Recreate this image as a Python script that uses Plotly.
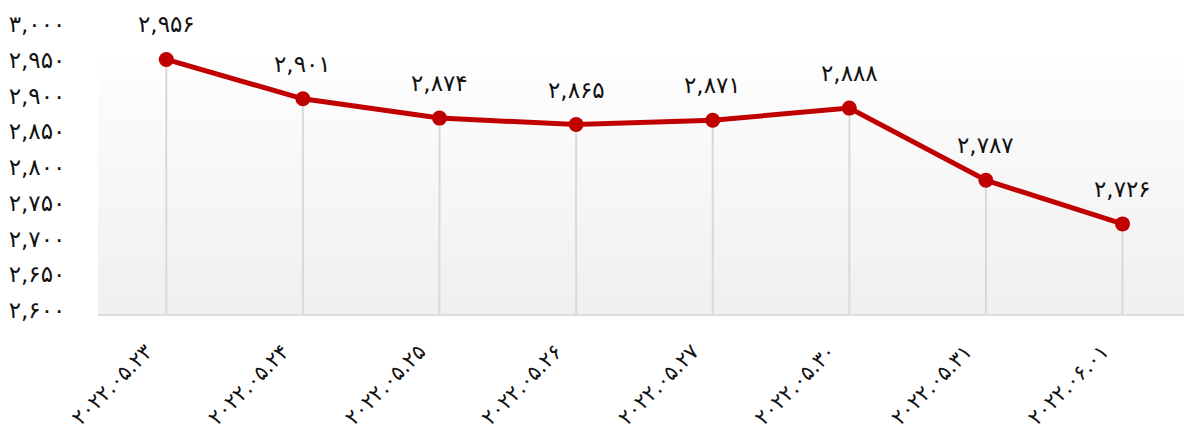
import plotly.graph_objects as go

# data
dates = ["2022.05.23", "2022.05.24", "2022.05.25", "2022.05.26",
         "2022.05.27", "2022.05.30", "2022.05.31", "2022.06.01"]
prices = [2956, 2901, 2874, 2865, 2871, 2888, 2787, 2726]
y_ticks = [2600, 2650, 2700, 2750, 2800, 2850, 2900, 2950, 3000]

FA = str.maketrans("0123456789", "۰۱۲۳۴۵۶۷۸۹")


def fa(s):
    return str(s).translate(FA)


def fa_num(v):
    return fa(f"{v:,}")


RED = "#c00000"
FONT = "DejaVu Sans"

fig = go.Figure()

# drop lines from each point to the axis
dx, dy = [], []
for d, p in zip(dates, prices):
    dx += [d, d, None]
    dy += [p, y_ticks[0], None]
fig.add_trace(go.Scatter(x=dx, y=dy, mode="lines",
                         line=dict(color="#d9d9d9", width=2),
                         hoverinfo="skip", showlegend=False))

fig.add_trace(go.Scatter(x=dates, y=prices, mode="lines+markers",
                         line=dict(color=RED, width=5),
                         marker=dict(color=RED, size=15),
                         showlegend=False))

for d, p in zip(dates, prices):
    fig.add_annotation(x=d, y=p, text=fa_num(p), showarrow=False,
                       yshift=35, font=dict(size=23, color="#111", family=FONT))

# vertical gradient background
n = 40
top = 0.89
for i in range(n):
    t = i / (n - 1)
    c = int(240 + (254 - 240) * t)
    fig.add_shape(type="rect", xref="paper", yref="y domain",
                  x0=0, x1=1, y0=top * i / n, y1=top * (i + 1) / n + 0.002,
                  fillcolor=f"rgb({c},{c},{c})", line=dict(width=0),
                  layer="below")

fig.update_layout(
    width=1184, height=442,
    margin=dict(l=98, r=0, t=28, b=128),
    paper_bgcolor="white", plot_bgcolor="white",
    font=dict(family=FONT, size=22, color="#111"),
)
fig.update_xaxes(
    type="category", range=[-0.5, 7.45], automargin=False,
    tickvals=dates, ticktext=[fa(d) for d in dates],
    tickangle=-45, ticks="outside", ticklen=15, tickcolor="rgba(0,0,0,0)",
    ticklabelshift=-20,
    showgrid=False, zeroline=False,
    showline=True, linecolor="#dddddd", linewidth=2,
    tickfont=dict(size=21, family=FONT),
)
fig.update_yaxes(
    range=[2600, 3000], automargin=False,
    tickvals=y_ticks, ticktext=[fa_num(v) for v in y_ticks],
    showgrid=False, zeroline=False, showline=False,
    ticks="outside", ticklen=27, tickcolor="rgba(0,0,0,0)",
    ticklabelshift=-4,
    tickfont=dict(size=23, family=FONT),
)

fig.write_html("out.html", config={"displayModeBar": False},
               post_script="document.body.style.margin='0';")
